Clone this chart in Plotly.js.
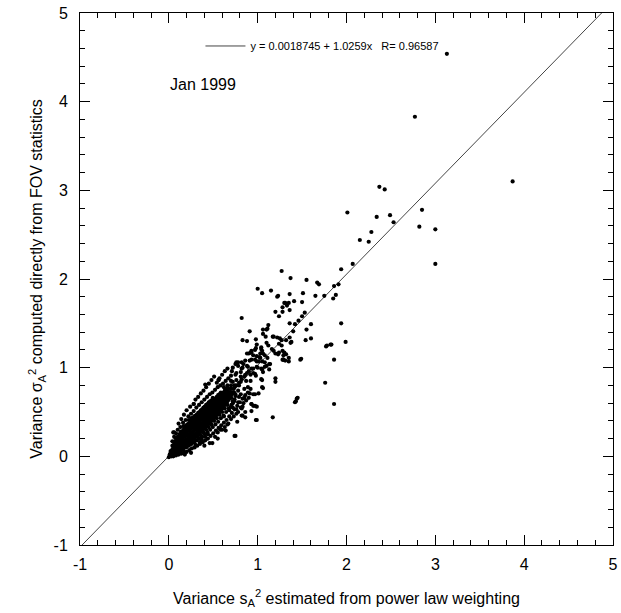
<!DOCTYPE html>
<html>
<head>
<meta charset="utf-8">
<script src="https://cdn.plot.ly/plotly-3.0.1.min.js"></script>
<style>
  html, body { margin: 0; padding: 0; background: #fff; }
  #chart { width: 621px; height: 613px; }
</style>
</head>
<body>
<div id="chart"></div>
<script>
// ---- Fit line values (as printed in the legend) ----
const fitIntercept = 0.0018745;
const fitSlope = 1.0259;
const fitR = 0.96587;
const fitXRange = [-1, 5];

// ---- Axis tick labels ----
const xTickVals = [-1, 0, 1, 2, 3, 4, 5];
const yTickVals = [-1, 0, 1, 2, 3, 4, 5];

// ---- Scatter values: [s_A^2, sigma_A^2] ----
const outlierPoints = [
  [3.13,4.54],[2.77,3.83],[3.87,3.10],[2.37,3.04],[2.43,3.01],[2.01,2.75],[2.34,2.70],[2.49,2.72],
  [2.53,2.64],[2.85,2.78],[2.82,2.59],[3.00,2.56],[2.28,2.53],[2.15,2.44],[2.25,2.42],[3.00,2.17],
  [2.07,2.17],[1.94,2.11],[1.86,1.92],[1.91,1.94],[1.88,1.82],[1.85,1.78]
];

const upperSpread = [
  [1.27,2.09],[1.37,2.01],[1.55,1.99],[1.67,1.96],[1.69,1.94],[1.00,1.89],[1.05,1.84],[1.15,1.87],
  [1.23,1.81],[1.36,1.83],[1.51,1.84],[1.65,1.81],[1.75,1.81],[1.41,1.75],[1.50,1.74],[1.30,1.73],
  [1.33,1.70],[1.35,1.73],[1.28,1.68],[1.20,1.63],[1.28,1.63],[1.36,1.65],[1.53,1.62],[1.50,1.58],
  [1.24,1.58],[0.82,1.56],[1.36,1.50],[1.42,1.49],[1.46,1.53],[1.94,1.50],[1.60,1.49],[1.12,1.48],
  [1.55,1.43],[0.91,1.41],[1.06,1.43],[1.11,1.44],[1.10,1.43],[1.40,1.41],[1.06,1.38],[1.22,1.80],
  [1.31,1.73]
];

const midSpread = [
  [0.98,1.32],[1.09,1.35],[1.18,1.35],[1.25,1.33],[1.32,1.31],[1.54,1.31],[1.60,1.33],[0.83,1.31],
  [0.88,1.30],[1.99,1.29],[1.83,1.26],[1.77,1.24],[1.27,1.25],[0.98,1.22],[1.04,1.23],[0.93,1.19],
  [1.28,1.19],[0.88,1.16],[0.95,1.14],[1.03,1.16],[1.29,1.14],[1.35,1.11],[1.28,1.09],[1.49,1.10],
  [1.86,1.09],[0.78,1.06],[0.84,1.04],[0.91,1.08],[1.13,1.04],[1.08,1.01],[1.20,0.88],[1.20,0.84],
  [1.04,0.87],[1.76,0.83],[1.45,0.66],[1.43,0.62],[1.86,0.59],[1.17,0.44],[0.98,0.41],[0.95,0.57],
  [0.86,0.50],[0.74,0.23],[0.58,0.30],[0.41,0.81],[1.17,1.35],[1.22,1.34],[1.27,1.31],[1.36,1.34],
  [1.38,1.29],[0.99,1.26],[1.10,1.28],[1.12,1.25],[1.24,1.27],[1.04,1.21],[1.05,1.19],[0.90,1.16],
  [0.93,1.17],[1.16,1.21],[1.20,1.16],[1.24,1.17],[1.08,1.14],[1.11,1.11],[1.02,1.12],[1.31,1.08],
  [1.35,1.07],[1.29,1.09],[0.82,1.06],[0.86,1.08],[0.93,1.09],[0.97,1.09],[0.99,1.07],[1.05,1.07],
  [0.75,1.04],[0.78,1.02],[0.82,0.99],[0.88,1.02],[0.93,0.99],[0.99,1.01],[1.05,0.98],[1.10,1.02],
  [0.71,0.96],[0.76,0.94],[0.81,0.95],[0.86,0.92],[0.90,0.96],[0.95,0.94],[0.98,0.91],[1.06,0.95],
  [0.56,0.86],[0.54,0.83],[1.05,0.78],[1.37,1.28],[1.78,1.25],[1.82,1.26],[0.97,1.20],[0.92,1.17],
  [1.06,1.16],[1.18,1.19],[1.30,1.17],[1.32,1.15],[1.23,1.15],[1.48,1.09],[1.29,1.09],[0.99,1.13],
  [1.03,1.11],[0.76,1.06],[1.01,1.07],[1.08,1.06],[1.14,1.04],[1.13,0.98],[0.72,1.00],[0.83,1.00],
  [0.89,1.01],[0.95,0.99],[1.00,1.00],[1.04,0.99],[0.70,0.91],[0.75,0.92],[0.81,0.90],[0.92,0.92],
  [0.97,0.93],[1.05,0.86],[0.70,0.85],[0.76,0.86],[0.81,0.84],[0.87,0.85],[0.92,0.85],[0.74,0.78],
  [0.79,0.80],[0.85,0.76],[0.89,0.78],[1.06,0.77],[0.91,0.71],[0.97,0.70],[1.01,0.71],[0.75,0.68],
  [0.81,0.70],[0.85,0.66],[1.44,0.65],[1.42,0.61],[0.72,0.60],[0.78,0.61],[0.93,0.59],[0.97,0.57],
  [0.82,0.54],[0.76,0.53],[0.93,0.51],[0.83,0.46],[0.86,0.44],[0.99,0.41]
];

const clusterEdge = [
  [0.04,0.17],[0.06,0.22],[0.05,0.27],[0.08,0.26],[0.10,0.30],[0.13,0.33],[0.11,0.37],[0.16,0.38],
  [0.14,0.42],[0.19,0.41],[0.22,0.45],[0.17,0.47],[0.25,0.48],[0.20,0.52],[0.28,0.51],[0.24,0.56],
  [0.31,0.55],[0.28,0.59],[0.34,0.58],[0.30,0.64],[0.37,0.61],[0.33,0.67],[0.40,0.64],[0.36,0.71],
  [0.43,0.67],[0.39,0.74],[0.46,0.70],[0.42,0.78],[0.49,0.72],[0.45,0.82],[0.52,0.75],[0.48,0.86],
  [0.55,0.78],[0.51,0.90],[0.58,0.80],[0.61,0.82],[0.57,0.88],[0.64,0.85],[0.60,0.92],[0.67,0.88],
  [0.63,0.96],[0.70,0.80],[0.66,0.99],[0.56,0.86],
  [0.05,0.00],[0.08,0.01],[0.11,0.02],[0.14,0.03],[0.17,0.05],[0.20,0.05],[0.23,0.07],[0.26,0.09],
  [0.29,0.10],[0.32,0.12],[0.35,0.14],[0.38,0.16],[0.41,0.18],[0.44,0.20],[0.47,0.23],[0.50,0.26],
  [0.53,0.29],[0.56,0.32],[0.59,0.35],[0.62,0.38],[0.65,0.41],[0.68,0.45],[0.71,0.49],[0.74,0.53],
  [0.77,0.57],[0.80,0.61],[0.83,0.65],[0.86,0.69],[0.89,0.72],[0.92,0.76],[0.72,0.62],[0.75,0.70],
  [0.78,0.74],[0.70,0.56],[0.69,0.66],[0.73,0.76],[0.76,0.80],[0.79,0.83],[0.82,0.87],[0.85,0.90],
  [0.88,0.94],[0.46,0.15],[0.49,0.15],[0.35,0.16],[0.41,0.22],[0.58,0.31],[0.67,0.37],[0.77,0.39],
  [0.82,0.46],[0.83,0.56],[0.93,0.59],[0.99,0.56],[0.75,0.23],[0.06,0.27],[0.28,0.59],[0.68,0.72],
  [0.71,0.70],[0.69,0.76],[0.72,0.84],[0.66,0.80],[0.62,0.78],[0.74,0.64],[0.79,0.67],
  [0.30,0.13],[0.37,0.19],[0.44,0.25],[0.52,0.22],[0.55,0.27],[0.60,0.30],[0.63,0.33],[0.66,0.36],
  [0.70,0.42],[0.73,0.45],[0.76,0.48],[0.62,0.45],[0.68,0.52],[0.72,0.55],[0.78,0.50],[0.81,0.55],
  [0.84,0.60],[0.87,0.63],[0.90,0.66],[0.95,0.70],[0.64,0.29],[0.55,0.20],[0.40,0.12],[0.25,0.04],
  [0.18,0.02]
];

const denseCore = [
  [0.00,-0.01],[0.01,0.02],[0.02,0.01],
  [0.03,0.00],[0.03,0.04],[0.04,0.08],[0.02,0.06],
  [0.06,0.02],[0.06,0.06],[0.07,0.10],[0.06,0.14],[0.05,0.11],
  [0.09,0.04],[0.09,0.08],[0.10,0.12],[0.09,0.16],[0.08,0.20],
  [0.12,0.06],[0.12,0.10],[0.13,0.14],[0.12,0.18],[0.11,0.22],[0.12,0.25],
  [0.15,0.08],[0.15,0.12],[0.16,0.16],[0.15,0.20],[0.14,0.24],[0.15,0.28],
  [0.18,0.10],[0.19,0.14],[0.18,0.18],[0.18,0.22],[0.17,0.26],[0.18,0.30],[0.18,0.33],
  [0.21,0.12],[0.21,0.16],[0.22,0.20],[0.21,0.24],[0.20,0.28],[0.21,0.32],[0.21,0.36],
  [0.24,0.14],[0.24,0.18],[0.25,0.22],[0.24,0.26],[0.23,0.30],[0.24,0.34],[0.24,0.38],[0.25,0.40],
  [0.27,0.16],[0.27,0.20],[0.28,0.24],[0.27,0.28],[0.26,0.32],[0.27,0.36],[0.27,0.40],[0.27,0.43],
  [0.30,0.18],[0.30,0.22],[0.31,0.26],[0.30,0.30],[0.29,0.34],[0.30,0.38],[0.30,0.42],[0.30,0.46],
  [0.33,0.21],[0.33,0.25],[0.34,0.29],[0.33,0.33],[0.32,0.37],[0.33,0.41],[0.33,0.45],[0.33,0.49],
  [0.36,0.24],[0.36,0.28],[0.37,0.32],[0.36,0.36],[0.35,0.40],[0.36,0.44],[0.36,0.48],[0.36,0.52],
  [0.39,0.27],[0.39,0.31],[0.40,0.35],[0.39,0.39],[0.38,0.43],[0.39,0.47],[0.39,0.51],[0.39,0.55],
  [0.42,0.30],[0.42,0.34],[0.43,0.38],[0.42,0.42],[0.41,0.46],[0.42,0.50],[0.42,0.54],[0.42,0.58],
  [0.45,0.33],[0.45,0.37],[0.46,0.41],[0.45,0.45],[0.44,0.49],[0.45,0.53],[0.45,0.57],[0.45,0.61],
  [0.48,0.36],[0.48,0.40],[0.49,0.44],[0.48,0.48],[0.47,0.52],[0.48,0.56],[0.48,0.60],[0.48,0.63],
  [0.51,0.40],[0.51,0.44],[0.52,0.48],[0.51,0.52],[0.50,0.56],[0.51,0.60],[0.51,0.64],
  [0.54,0.43],[0.54,0.47],[0.55,0.51],[0.54,0.55],[0.53,0.59],[0.54,0.63],[0.54,0.67],
  [0.57,0.47],[0.57,0.51],[0.58,0.55],[0.57,0.59],[0.56,0.63],[0.57,0.67],[0.57,0.70],
  [0.60,0.50],[0.60,0.54],[0.61,0.58],[0.60,0.62],[0.59,0.66],[0.60,0.70],
  [0.63,0.54],[0.63,0.58],[0.64,0.62],[0.63,0.66],[0.62,0.70],[0.63,0.74],
  [0.66,0.58],[0.66,0.62],[0.67,0.66],[0.66,0.70],[0.65,0.74]
];

const denseCoreFill = [
  [0.015,0.01],[0.02,0.04],
  [0.045,0.02],[0.045,0.06],[0.04,0.12],
  [0.075,0.03],[0.075,0.07],[0.08,0.13],[0.07,0.17],
  [0.105,0.05],[0.105,0.09],[0.11,0.14],[0.10,0.18],[0.10,0.22],
  [0.135,0.07],[0.135,0.11],[0.14,0.16],[0.13,0.20],[0.13,0.24],[0.135,0.28],
  [0.165,0.09],[0.165,0.13],[0.17,0.18],[0.16,0.22],[0.16,0.26],[0.165,0.30],[0.165,0.34],
  [0.195,0.10],[0.195,0.15],[0.20,0.19],[0.195,0.23],[0.19,0.27],[0.195,0.31],[0.195,0.35],
  [0.225,0.12],[0.225,0.17],[0.23,0.21],[0.225,0.25],[0.22,0.29],[0.225,0.33],[0.225,0.37],[0.225,0.41],
  [0.255,0.14],[0.255,0.19],[0.26,0.23],[0.255,0.27],[0.25,0.31],[0.255,0.35],[0.255,0.39],[0.255,0.43],
  [0.285,0.16],[0.285,0.21],[0.29,0.25],[0.285,0.29],[0.28,0.33],[0.285,0.37],[0.285,0.41],[0.285,0.45],
  [0.315,0.18],[0.315,0.23],[0.32,0.27],[0.315,0.31],[0.31,0.35],[0.315,0.39],[0.315,0.43],[0.315,0.47],
  [0.345,0.20],[0.345,0.26],[0.35,0.30],[0.345,0.34],[0.34,0.38],[0.345,0.42],[0.345,0.46],[0.345,0.50],
  [0.375,0.22],[0.375,0.29],[0.38,0.33],[0.375,0.37],[0.37,0.41],[0.375,0.45],[0.375,0.49],[0.375,0.53],
  [0.405,0.25],[0.405,0.32],[0.41,0.36],[0.405,0.40],[0.40,0.44],[0.405,0.48],[0.405,0.52],[0.405,0.56],
  [0.435,0.27],[0.435,0.35],[0.44,0.39],[0.435,0.43],[0.43,0.47],[0.435,0.51],[0.435,0.55],[0.435,0.59],
  [0.465,0.30],[0.465,0.38],[0.47,0.42],[0.465,0.46],[0.46,0.50],[0.465,0.54],[0.465,0.58],[0.465,0.62],
  [0.495,0.33],[0.495,0.42],[0.50,0.46],[0.495,0.50],[0.49,0.54],[0.495,0.58],[0.495,0.62],[0.495,0.66],
  [0.525,0.36],[0.525,0.45],[0.53,0.49],[0.525,0.53],[0.52,0.57],[0.525,0.61],[0.525,0.65],
  [0.555,0.39],[0.555,0.49],[0.56,0.53],[0.555,0.57],[0.55,0.61],[0.555,0.65],[0.555,0.69],
  [0.585,0.43],[0.585,0.52],[0.59,0.56],[0.585,0.60],[0.58,0.64],[0.585,0.68],[0.585,0.72],
  [0.615,0.46],[0.615,0.56],[0.62,0.60],[0.615,0.64],[0.61,0.68],[0.615,0.72],
  [0.645,0.50],[0.645,0.60],[0.65,0.64],[0.645,0.68],[0.64,0.72],[0.645,0.76],
  [0.675,0.54],[0.675,0.64],[0.68,0.68],[0.675,0.72],[0.67,0.76],
  [0.705,0.58],[0.705,0.66],[0.71,0.72],[0.70,0.76],
  [0.735,0.62],[0.735,0.72],[0.74,0.80]
];

const FONT = "'Liberation Sans', Arial, Helvetica, sans-serif";
const allPoints = [].concat(denseCore, denseCoreFill, clusterEdge, midSpread, upperSpread, outlierPoints);

const scatterTrace = {
  type: 'scatter', mode: 'markers',
  x: allPoints.map(p => p[0]),
  y: allPoints.map(p => p[1]),
  marker: { color: '#000', size: 4.2, line: { width: 0 } },
  showlegend: false, hoverinfo: 'x+y'
};

const fitTrace = {
  type: 'scatter', mode: 'lines',
  x: fitXRange,
  y: fitXRange.map(x => fitIntercept + fitSlope * x),
  line: { color: '#444', width: 1 },
  name: 'y = ' + fitIntercept + ' + ' + fitSlope + 'x   R= ' + fitR,
  showlegend: true
};

const axisCommon = {
  range: [-1, 5], showgrid: false, zeroline: false,
  showline: true, linecolor: '#000', linewidth: 1, mirror: 'allticks',
  ticks: 'inside', ticklen: 10, tickwidth: 1, tickcolor: '#000',
  tickfont: { family: FONT, size: 16, color: '#000' },
  minor: { dtick: 0.2, ticks: 'inside', ticklen: 5, tickwidth: 1, tickcolor: '#000', showgrid: false },
  automargin: false, fixedrange: true
};

const layout = {
  width: 621, height: 613,
  margin: { l: 80, r: 8, t: 13, b: 68 },
  paper_bgcolor: '#fff', plot_bgcolor: '#fff',
  font: { family: FONT, color: '#000' },
  xaxis: Object.assign({}, axisCommon, {
    tickvals: xTickVals, ticktext: xTickVals.map(String),
    ticklabelstandoff: 5,
    title: { text: 'Variance s<sub>A</sub><sup>2</sup> estimated from power law weighting',
             font: { family: FONT, size: 16, color: '#000' }, standoff: 20 }
  }),
  yaxis: Object.assign({}, axisCommon, {
    tickvals: yTickVals, ticktext: yTickVals.map(String),
    ticklabelstandoff: 8,
    title: { text: 'Variance σ<sub>A</sub><sup>2</sup> computed directly from FOV statistics',
             font: { family: FONT, size: 16, color: '#000' }, standoff: 6 }
  }),
  showlegend: true,
  legend: {
    x: 0.226, y: 0.938, xanchor: 'left', yanchor: 'middle',
    bgcolor: 'rgba(0,0,0,0)', borderwidth: 0, itemwidth: 40,
    font: { family: FONT, size: 11, color: '#000' }
  },
  annotations: [{
    xref: 'paper', yref: 'paper', x: 0.166, y: 0.866, xanchor: 'left', yanchor: 'middle',
    text: 'Jan 1999', showarrow: false, font: { family: FONT, size: 16, color: '#000' }
  }]
};

Plotly.newPlot('chart', [fitTrace, scatterTrace], layout, { displayModeBar: false, staticPlot: true });
</script>
</body>
</html>
